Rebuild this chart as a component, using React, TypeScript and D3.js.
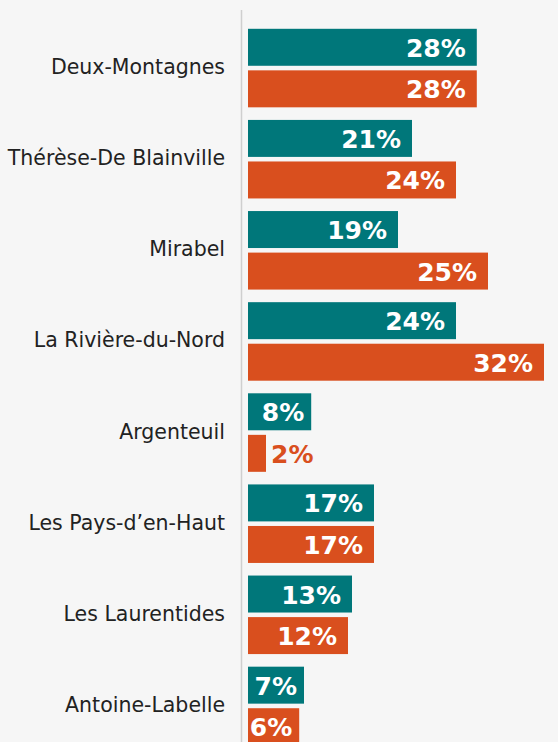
import React from "react";
import * as d3 from "d3";

// regions, top to bottom
const regions = [
  "Deux-Montagnes",
  "Thérèse-De Blainville",
  "Mirabel",
  "La Rivière-du-Nord",
  "Argenteuil",
  "Les Pays-d’en-Haut",
  "Les Laurentides",
  "Antoine-Labelle",
];

// bar lengths (not always in step with the printed labels)
const tealValues = [28.6, 20.5, 18.75, 26, 7.9, 15.75, 13, 7];
const orangeValues = [28.6, 26, 30, 37, 2.25, 15.75, 12.5, 6.4];

// printed labels
const tealLabels = ["28%", "21%", "19%", "24%", "8%", "17%", "13%", "7%"];
const orangeLabels = ["28%", "24%", "25%", "32%", "2%", "17%", "12%", "6%"];

const series = ["teal", "orange"];

const width = 558;
const height = 742;
const TEAL = "#00777A";
const ORANGE = "#D94F1E";

export default function App() {
  const x = d3.scaleLinear().domain([0, 37]).range([248, 544]);
  const y0 = d3.scaleBand().domain(regions).range([22.5, 751.5]);
  const y1 = d3
    .scaleBand()
    .domain(series)
    .range([6.3, y0.bandwidth() - 6.3])
    .paddingInner(0.11);

  const rows = regions.map((r, i) => ({
    region: r,
    bars: [
      { key: "teal", value: tealValues[i], label: tealLabels[i], color: TEAL },
      { key: "orange", value: orangeValues[i], label: orangeLabels[i], color: ORANGE },
    ],
  }));

  return (
    <svg
      width={width}
      height={height}
      style={{ position: "absolute", left: 0, top: 0 }}
    >
      <rect width={width} height={height} fill="#f6f6f6" />
      <line x1={241.5} x2={241.5} y1={10} y2={height} stroke="#cfcfcf" strokeWidth={1.5} />
      {rows.map((row) => {
        const gy = y0(row.region);
        return (
          <g key={row.region} transform={`translate(0,${gy})`}>
            <text
              x={225}
              y={y0.bandwidth() / 2 - 1}
              textAnchor="end"
              dominantBaseline="central"
              fontFamily="DejaVu Sans, sans-serif"
              fontSize={20.5}
              fill="#222"
            >
              {row.region}
            </text>
            {row.bars.map((b) => {
              const by = y1(b.key);
              const w = x(b.value) - x(0);
              const inside = w > 40;
              return (
                <g key={b.key}>
                  <rect x={x(0)} y={by} width={w} height={y1.bandwidth()} fill={b.color} />
                  <text
                    x={inside ? x(b.value) - (w < 70 ? 7 : 11) : x(b.value) + 5}
                    y={by + y1.bandwidth() / 2 + 1}
                    textAnchor={inside ? "end" : "start"}
                    dominantBaseline="central"
                    fontFamily="DejaVu Sans, sans-serif"
                    fontWeight="bold"
                    fontSize={25}
                    fill={inside ? "#fff" : b.color}
                  >
                    {b.label}
                  </text>
                </g>
              );
            })}
          </g>
        );
      })}
    </svg>
  );
}
